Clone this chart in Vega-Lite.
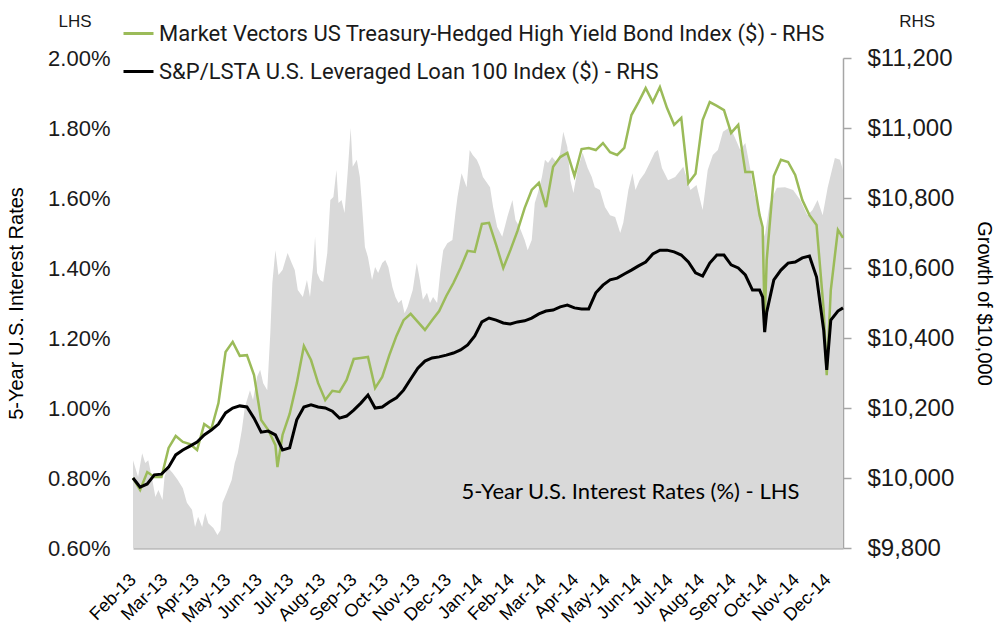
{
  "$schema": "https://vega.github.io/schema/vega-lite/v6.json",
  "width": 710,
  "height": 490,
  "autosize": {"type": "none"},
  "padding": {"left": 133, "top": 58, "right": 160, "bottom": 83},
  "background": "white",
  "config": {"view": {"stroke": null}, "font": "Liberation Sans", "axisX": {"labelOverlap": false, "labelBound": false, "labelFlush": false}},
  "datasets": {
    "rate": [
      {"d":"2013-02-01","v":0.851},{"d":"2013-02-06","v":0.803},{"d":"2013-02-10","v":0.871},{"d":"2013-02-13","v":0.843},{"d":"2013-02-16","v":0.851},{"d":"2013-02-20","v":0.794},{"d":"2013-02-23","v":0.746},{"d":"2013-02-26","v":0.766},{"d":"2013-03-02","v":0.737},{"d":"2013-03-04","v":0.803},{"d":"2013-03-07","v":0.831},{"d":"2013-03-12","v":0.814},{"d":"2013-03-17","v":0.794},{"d":"2013-03-22","v":0.771},{"d":"2013-03-26","v":0.729},{"d":"2013-03-31","v":0.709},{"d":"2013-04-03","v":0.660},{"d":"2013-04-06","v":0.689},{"d":"2013-04-10","v":0.660},{"d":"2013-04-13","v":0.700},{"d":"2013-04-16","v":0.671},{"d":"2013-04-21","v":0.657},{"d":"2013-04-25","v":0.637},{"d":"2013-04-28","v":0.651},{"d":"2013-04-30","v":0.729},{"d":"2013-05-04","v":0.757},{"d":"2013-05-09","v":0.794},{"d":"2013-05-12","v":0.843},{"d":"2013-05-15","v":0.871},{"d":"2013-05-19","v":0.937},{"d":"2013-05-22","v":1.003},{"d":"2013-05-27","v":1.051},{"d":"2013-05-30","v":1.023},{"d":"2013-06-03","v":1.089},{"d":"2013-06-06","v":1.109},{"d":"2013-06-09","v":1.071},{"d":"2013-06-13","v":1.051},{"d":"2013-06-16","v":1.214},{"d":"2013-06-18","v":1.357},{"d":"2013-06-21","v":1.451},{"d":"2013-06-24","v":1.380},{"d":"2013-06-28","v":1.394},{"d":"2013-07-03","v":1.443},{"d":"2013-07-07","v":1.414},{"d":"2013-07-10","v":1.394},{"d":"2013-07-13","v":1.337},{"d":"2013-07-18","v":1.317},{"d":"2013-07-22","v":1.366},{"d":"2013-07-25","v":1.317},{"d":"2013-07-28","v":1.403},{"d":"2013-07-30","v":1.489},{"d":"2013-08-01","v":1.386},{"d":"2013-08-04","v":1.366},{"d":"2013-08-07","v":1.360},{"d":"2013-08-11","v":1.443},{"d":"2013-08-14","v":1.594},{"d":"2013-08-17","v":1.603},{"d":"2013-08-20","v":1.680},{"d":"2013-08-22","v":1.586},{"d":"2013-08-25","v":1.594},{"d":"2013-08-28","v":1.557},{"d":"2013-08-31","v":1.671},{"d":"2013-09-03","v":1.800},{"d":"2013-09-05","v":1.689},{"d":"2013-09-09","v":1.709},{"d":"2013-09-12","v":1.660},{"d":"2013-09-14","v":1.586},{"d":"2013-09-17","v":1.460},{"d":"2013-09-20","v":1.431},{"d":"2013-09-24","v":1.366},{"d":"2013-09-27","v":1.403},{"d":"2013-09-30","v":1.386},{"d":"2013-10-04","v":1.414},{"d":"2013-10-07","v":1.423},{"d":"2013-10-10","v":1.403},{"d":"2013-10-14","v":1.346},{"d":"2013-10-17","v":1.317},{"d":"2013-10-20","v":1.300},{"d":"2013-10-23","v":1.309},{"d":"2013-10-26","v":1.271},{"d":"2013-10-29","v":1.289},{"d":"2013-11-03","v":1.337},{"d":"2013-11-07","v":1.414},{"d":"2013-11-10","v":1.366},{"d":"2013-11-13","v":1.309},{"d":"2013-11-17","v":1.329},{"d":"2013-11-20","v":1.300},{"d":"2013-11-23","v":1.317},{"d":"2013-11-27","v":1.300},{"d":"2013-11-30","v":1.386},{"d":"2013-12-03","v":1.451},{"d":"2013-12-07","v":1.471},{"d":"2013-12-12","v":1.480},{"d":"2013-12-15","v":1.557},{"d":"2013-12-17","v":1.603},{"d":"2013-12-21","v":1.671},{"d":"2013-12-26","v":1.631},{"d":"2013-12-29","v":1.737},{"d":"2014-01-01","v":1.723},{"d":"2014-01-05","v":1.709},{"d":"2014-01-08","v":1.689},{"d":"2014-01-11","v":1.660},{"d":"2014-01-18","v":1.631},{"d":"2014-01-21","v":1.574},{"d":"2014-01-25","v":1.517},{"d":"2014-01-30","v":1.489},{"d":"2014-02-04","v":1.546},{"d":"2014-02-09","v":1.594},{"d":"2014-02-12","v":1.537},{"d":"2014-02-16","v":1.517},{"d":"2014-02-21","v":1.480},{"d":"2014-02-24","v":1.451},{"d":"2014-02-28","v":1.480},{"d":"2014-03-03","v":1.586},{"d":"2014-03-06","v":1.614},{"d":"2014-03-10","v":1.660},{"d":"2014-03-13","v":1.709},{"d":"2014-03-16","v":1.700},{"d":"2014-03-20","v":1.717},{"d":"2014-03-25","v":1.700},{"d":"2014-03-28","v":1.729},{"d":"2014-03-31","v":1.789},{"d":"2014-04-04","v":1.746},{"d":"2014-04-07","v":1.651},{"d":"2014-04-10","v":1.614},{"d":"2014-04-14","v":1.680},{"d":"2014-04-16","v":1.700},{"d":"2014-04-19","v":1.729},{"d":"2014-04-24","v":1.686},{"d":"2014-04-28","v":1.660},{"d":"2014-05-01","v":1.631},{"d":"2014-05-06","v":1.623},{"d":"2014-05-11","v":1.574},{"d":"2014-05-16","v":1.551},{"d":"2014-05-21","v":1.546},{"d":"2014-05-26","v":1.500},{"d":"2014-05-29","v":1.529},{"d":"2014-06-03","v":1.623},{"d":"2014-06-07","v":1.671},{"d":"2014-06-10","v":1.623},{"d":"2014-06-14","v":1.651},{"d":"2014-06-19","v":1.671},{"d":"2014-06-24","v":1.700},{"d":"2014-06-29","v":1.731},{"d":"2014-07-02","v":1.737},{"d":"2014-07-06","v":1.686},{"d":"2014-07-12","v":1.651},{"d":"2014-07-19","v":1.660},{"d":"2014-07-27","v":1.689},{"d":"2014-08-03","v":1.623},{"d":"2014-08-09","v":1.637},{"d":"2014-08-15","v":1.566},{"d":"2014-08-20","v":1.680},{"d":"2014-08-25","v":1.723},{"d":"2014-08-30","v":1.737},{"d":"2014-09-04","v":1.789},{"d":"2014-09-11","v":1.803},{"d":"2014-09-16","v":1.771},{"d":"2014-09-21","v":1.737},{"d":"2014-09-26","v":1.757},{"d":"2014-10-01","v":1.680},{"d":"2014-10-05","v":1.609},{"d":"2014-10-10","v":1.566},{"d":"2014-10-15","v":1.489},{"d":"2014-10-20","v":1.586},{"d":"2014-10-27","v":1.629},{"d":"2014-11-04","v":1.631},{"d":"2014-11-12","v":1.623},{"d":"2014-11-19","v":1.594},{"d":"2014-11-26","v":1.551},{"d":"2014-12-01","v":1.566},{"d":"2014-12-06","v":1.594},{"d":"2014-12-11","v":1.551},{"d":"2014-12-16","v":1.631},{"d":"2014-12-23","v":1.714},{"d":"2014-12-28","v":1.709},{"d":"2014-12-31","v":1.680}
    ],
    "idx": [
      {"d":"2013-02-01","s":"HY","v":10000},{"d":"2013-02-08","s":"HY","v":9966},{"d":"2013-02-15","s":"HY","v":10017},{"d":"2013-02-22","s":"HY","v":10003},{"d":"2013-03-01","s":"HY","v":10003},{"d":"2013-03-08","s":"HY","v":10086},{"d":"2013-03-15","s":"HY","v":10120},{"d":"2013-03-22","s":"HY","v":10103},{"d":"2013-03-29","s":"HY","v":10097},{"d":"2013-04-05","s":"HY","v":10080},{"d":"2013-04-12","s":"HY","v":10154},{"d":"2013-04-19","s":"HY","v":10140},{"d":"2013-04-26","s":"HY","v":10214},{"d":"2013-05-03","s":"HY","v":10360},{"d":"2013-05-10","s":"HY","v":10389},{"d":"2013-05-17","s":"HY","v":10349},{"d":"2013-05-24","s":"HY","v":10351},{"d":"2013-05-31","s":"HY","v":10294},{"d":"2013-06-07","s":"HY","v":10166},{"d":"2013-06-14","s":"HY","v":10137},{"d":"2013-06-21","s":"HY","v":10094},{"d":"2013-06-23","s":"HY","v":10031},{"d":"2013-06-28","s":"HY","v":10123},{"d":"2013-07-05","s":"HY","v":10183},{"d":"2013-07-12","s":"HY","v":10271},{"d":"2013-07-19","s":"HY","v":10377},{"d":"2013-07-26","s":"HY","v":10337},{"d":"2013-08-02","s":"HY","v":10271},{"d":"2013-08-09","s":"HY","v":10223},{"d":"2013-08-16","s":"HY","v":10249},{"d":"2013-08-23","s":"HY","v":10246},{"d":"2013-08-30","s":"HY","v":10280},{"d":"2013-09-06","s":"HY","v":10340},{"d":"2013-09-13","s":"HY","v":10343},{"d":"2013-09-20","s":"HY","v":10346},{"d":"2013-09-27","s":"HY","v":10257},{"d":"2013-10-04","s":"HY","v":10289},{"d":"2013-10-11","s":"HY","v":10351},{"d":"2013-10-18","s":"HY","v":10406},{"d":"2013-10-25","s":"HY","v":10451},{"d":"2013-11-01","s":"HY","v":10469},{"d":"2013-11-08","s":"HY","v":10446},{"d":"2013-11-15","s":"HY","v":10423},{"d":"2013-11-22","s":"HY","v":10451},{"d":"2013-11-29","s":"HY","v":10477},{"d":"2013-12-06","s":"HY","v":10520},{"d":"2013-12-13","s":"HY","v":10557},{"d":"2013-12-20","s":"HY","v":10600},{"d":"2013-12-27","s":"HY","v":10649},{"d":"2014-01-03","s":"HY","v":10646},{"d":"2014-01-10","s":"HY","v":10726},{"d":"2014-01-17","s":"HY","v":10729},{"d":"2014-01-24","s":"HY","v":10666},{"d":"2014-01-31","s":"HY","v":10600},{"d":"2014-02-07","s":"HY","v":10651},{"d":"2014-02-14","s":"HY","v":10706},{"d":"2014-02-21","s":"HY","v":10771},{"d":"2014-02-28","s":"HY","v":10823},{"d":"2014-03-07","s":"HY","v":10843},{"d":"2014-03-14","s":"HY","v":10774},{"d":"2014-03-21","s":"HY","v":10889},{"d":"2014-03-28","s":"HY","v":10917},{"d":"2014-04-04","s":"HY","v":10929},{"d":"2014-04-11","s":"HY","v":10863},{"d":"2014-04-18","s":"HY","v":10940},{"d":"2014-04-25","s":"HY","v":10943},{"d":"2014-05-02","s":"HY","v":10937},{"d":"2014-05-09","s":"HY","v":10957},{"d":"2014-05-16","s":"HY","v":10931},{"d":"2014-05-23","s":"HY","v":10923},{"d":"2014-05-30","s":"HY","v":10943},{"d":"2014-06-06","s":"HY","v":11037},{"d":"2014-06-13","s":"HY","v":11074},{"d":"2014-06-20","s":"HY","v":11114},{"d":"2014-06-27","s":"HY","v":11074},{"d":"2014-07-04","s":"HY","v":11117},{"d":"2014-07-11","s":"HY","v":11057},{"d":"2014-07-18","s":"HY","v":11009},{"d":"2014-07-25","s":"HY","v":11029},{"d":"2014-08-01","s":"HY","v":10843},{"d":"2014-08-08","s":"HY","v":10869},{"d":"2014-08-15","s":"HY","v":11023},{"d":"2014-08-22","s":"HY","v":11074},{"d":"2014-08-29","s":"HY","v":11063},{"d":"2014-09-05","s":"HY","v":11051},{"d":"2014-09-12","s":"HY","v":10986},{"d":"2014-09-19","s":"HY","v":11009},{"d":"2014-09-26","s":"HY","v":10874},{"d":"2014-10-03","s":"HY","v":10874},{"d":"2014-10-10","s":"HY","v":10751},{"d":"2014-10-13","s":"HY","v":10717},{"d":"2014-10-15","s":"HY","v":10446},{"d":"2014-10-17","s":"HY","v":10623},{"d":"2014-10-24","s":"HY","v":10863},{"d":"2014-10-31","s":"HY","v":10909},{"d":"2014-11-07","s":"HY","v":10903},{"d":"2014-11-14","s":"HY","v":10866},{"d":"2014-11-21","s":"HY","v":10794},{"d":"2014-11-28","s":"HY","v":10751},{"d":"2014-12-05","s":"HY","v":10723},{"d":"2014-12-12","s":"HY","v":10480},{"d":"2014-12-15","s":"HY","v":10294},{"d":"2014-12-19","s":"HY","v":10537},{"d":"2014-12-26","s":"HY","v":10709},{"d":"2014-12-31","s":"HY","v":10686},
      {"d":"2013-02-01","s":"Loan","v":10000},{"d":"2013-02-08","s":"Loan","v":9974},{"d":"2013-02-15","s":"Loan","v":9983},{"d":"2013-02-22","s":"Loan","v":10009},{"d":"2013-03-01","s":"Loan","v":10011},{"d":"2013-03-08","s":"Loan","v":10031},{"d":"2013-03-15","s":"Loan","v":10066},{"d":"2013-03-22","s":"Loan","v":10080},{"d":"2013-03-29","s":"Loan","v":10091},{"d":"2013-04-05","s":"Loan","v":10103},{"d":"2013-04-12","s":"Loan","v":10123},{"d":"2013-04-19","s":"Loan","v":10137},{"d":"2013-04-26","s":"Loan","v":10154},{"d":"2013-05-03","s":"Loan","v":10186},{"d":"2013-05-10","s":"Loan","v":10200},{"d":"2013-05-17","s":"Loan","v":10206},{"d":"2013-05-24","s":"Loan","v":10203},{"d":"2013-05-31","s":"Loan","v":10171},{"d":"2013-06-07","s":"Loan","v":10131},{"d":"2013-06-14","s":"Loan","v":10134},{"d":"2013-06-21","s":"Loan","v":10123},{"d":"2013-06-28","s":"Loan","v":10080},{"d":"2013-07-05","s":"Loan","v":10086},{"d":"2013-07-12","s":"Loan","v":10166},{"d":"2013-07-19","s":"Loan","v":10203},{"d":"2013-07-26","s":"Loan","v":10209},{"d":"2013-08-02","s":"Loan","v":10203},{"d":"2013-08-09","s":"Loan","v":10200},{"d":"2013-08-16","s":"Loan","v":10191},{"d":"2013-08-23","s":"Loan","v":10171},{"d":"2013-08-30","s":"Loan","v":10177},{"d":"2013-09-06","s":"Loan","v":10194},{"d":"2013-09-13","s":"Loan","v":10214},{"d":"2013-09-20","s":"Loan","v":10237},{"d":"2013-09-27","s":"Loan","v":10200},{"d":"2013-10-04","s":"Loan","v":10203},{"d":"2013-10-11","s":"Loan","v":10217},{"d":"2013-10-18","s":"Loan","v":10229},{"d":"2013-10-25","s":"Loan","v":10251},{"d":"2013-11-01","s":"Loan","v":10283},{"d":"2013-11-08","s":"Loan","v":10314},{"d":"2013-11-15","s":"Loan","v":10334},{"d":"2013-11-22","s":"Loan","v":10343},{"d":"2013-11-29","s":"Loan","v":10346},{"d":"2013-12-06","s":"Loan","v":10351},{"d":"2013-12-13","s":"Loan","v":10357},{"d":"2013-12-20","s":"Loan","v":10366},{"d":"2013-12-27","s":"Loan","v":10380},{"d":"2014-01-03","s":"Loan","v":10406},{"d":"2014-01-10","s":"Loan","v":10446},{"d":"2014-01-17","s":"Loan","v":10457},{"d":"2014-01-24","s":"Loan","v":10451},{"d":"2014-01-31","s":"Loan","v":10443},{"d":"2014-02-07","s":"Loan","v":10440},{"d":"2014-02-14","s":"Loan","v":10446},{"d":"2014-02-21","s":"Loan","v":10449},{"d":"2014-02-28","s":"Loan","v":10457},{"d":"2014-03-07","s":"Loan","v":10469},{"d":"2014-03-14","s":"Loan","v":10477},{"d":"2014-03-21","s":"Loan","v":10480},{"d":"2014-03-28","s":"Loan","v":10489},{"d":"2014-04-04","s":"Loan","v":10494},{"d":"2014-04-11","s":"Loan","v":10486},{"d":"2014-04-18","s":"Loan","v":10483},{"d":"2014-04-25","s":"Loan","v":10483},{"d":"2014-05-02","s":"Loan","v":10529},{"d":"2014-05-09","s":"Loan","v":10551},{"d":"2014-05-16","s":"Loan","v":10566},{"d":"2014-05-23","s":"Loan","v":10571},{"d":"2014-05-30","s":"Loan","v":10583},{"d":"2014-06-06","s":"Loan","v":10594},{"d":"2014-06-13","s":"Loan","v":10606},{"d":"2014-06-20","s":"Loan","v":10617},{"d":"2014-06-27","s":"Loan","v":10640},{"d":"2014-07-04","s":"Loan","v":10651},{"d":"2014-07-11","s":"Loan","v":10651},{"d":"2014-07-18","s":"Loan","v":10646},{"d":"2014-07-25","s":"Loan","v":10637},{"d":"2014-08-01","s":"Loan","v":10617},{"d":"2014-08-08","s":"Loan","v":10586},{"d":"2014-08-15","s":"Loan","v":10577},{"d":"2014-08-22","s":"Loan","v":10614},{"d":"2014-08-29","s":"Loan","v":10637},{"d":"2014-09-05","s":"Loan","v":10637},{"d":"2014-09-12","s":"Loan","v":10609},{"d":"2014-09-19","s":"Loan","v":10600},{"d":"2014-09-26","s":"Loan","v":10580},{"d":"2014-10-03","s":"Loan","v":10537},{"d":"2014-10-10","s":"Loan","v":10537},{"d":"2014-10-13","s":"Loan","v":10517},{"d":"2014-10-15","s":"Loan","v":10417},{"d":"2014-10-17","s":"Loan","v":10474},{"d":"2014-10-24","s":"Loan","v":10566},{"d":"2014-10-31","s":"Loan","v":10594},{"d":"2014-11-07","s":"Loan","v":10614},{"d":"2014-11-14","s":"Loan","v":10617},{"d":"2014-11-21","s":"Loan","v":10629},{"d":"2014-11-28","s":"Loan","v":10634},{"d":"2014-12-05","s":"Loan","v":10574},{"d":"2014-12-12","s":"Loan","v":10423},{"d":"2014-12-15","s":"Loan","v":10309},{"d":"2014-12-19","s":"Loan","v":10451},{"d":"2014-12-26","s":"Loan","v":10477},{"d":"2014-12-31","s":"Loan","v":10486}
    ]
  },
  "encoding": {
    "x": {
      "field": "d", "type": "temporal",
      "scale": {"type": "utc", "domain": [{"year": 2013, "month": 2, "date": 1, "utc": true}, {"year": 2014, "month": 12, "date": 31, "utc": true}]},
      "axis": {
        "orient": "bottom", "title": null, "grid": false, "ticks": false, "tickSize": 0,
        "values": [
          {"year":2013,"month":2,"date":1,"utc":true},{"year":2013,"month":3,"date":4,"utc":true},{"year":2013,"month":4,"date":4,"utc":true},{"year":2013,"month":5,"date":5,"utc":true},{"year":2013,"month":6,"date":5,"utc":true},{"year":2013,"month":7,"date":6,"utc":true},{"year":2013,"month":8,"date":6,"utc":true},{"year":2013,"month":9,"date":6,"utc":true},{"year":2013,"month":10,"date":7,"utc":true},{"year":2013,"month":11,"date":7,"utc":true},{"year":2013,"month":12,"date":8,"utc":true},{"year":2014,"month":1,"date":8,"utc":true},{"year":2014,"month":2,"date":8,"utc":true},{"year":2014,"month":3,"date":11,"utc":true},{"year":2014,"month":4,"date":12,"utc":true},{"year":2014,"month":5,"date":13,"utc":true},{"year":2014,"month":6,"date":13,"utc":true},{"year":2014,"month":7,"date":14,"utc":true},{"year":2014,"month":8,"date":14,"utc":true},{"year":2014,"month":9,"date":14,"utc":true},{"year":2014,"month":10,"date":15,"utc":true},{"year":2014,"month":11,"date":15,"utc":true},{"year":2014,"month":12,"date":16,"utc":true}
        ],
        "format": "%b-%y", "labelAngle": -45, "labelAlign": "right", "labelBaseline": "middle",
        "labelPadding": 29, "labelFontSize": 18, "labelFont": "Liberation Sans", "labelColor": "#000000",
        "labelOverlap": false, "labelBound": false, "labelFlush": false, "labelSeparation": 0,
        "domainColor": "#bfbfbf", "domainWidth": 2.5
      }
    }
  },
  "layer": [
    {
      "layer": [
        {
          "data": {"name": "rate"},
          "mark": {"type": "area", "color": "#d9d9d9"},
          "encoding": {
            "y": {
              "field": "v", "type": "quantitative",
              "scale": {"domain": [0.6, 2.0], "nice": false, "zero": false},
              "axis": {
                "orient": "left", "values": [0.6, 0.8, 1.0, 1.2, 1.4, 1.6, 1.8, 2.0],
                "labelExpr": "format(datum.value, '.2f') + '%'",
                "domain": false, "ticks": false, "tickSize": 0, "grid": false,
                "labelPadding": 23, "labelFontSize": 22, "labelFont": "Liberation Sans", "labelColor": "#1a1a1a",
                "title": "5-Year U.S. Interest Rates", "titleFontSize": 20, "titleFontWeight": "normal",
                "titleFont": "Liberation Sans", "titleColor": "#000000", "titlePadding": 21
              }
            },
            "y2": {"datum": 0.6}
          }
        },
        {
          "data": {"values": [{"d": "2013-12-21", "v": 0.76, "t": "5-Year U.S. Interest Rates (%) - LHS"}]},
          "mark": {"type": "text", "align": "left", "baseline": "middle", "font": "Lato", "fontSize": 22, "color": "#000000"},
          "encoding": {
            "y": {"field": "v", "type": "quantitative"},
            "text": {"field": "t"}
          }
        },
        {
          "data": {"values": [{"d": "2012-12-06", "v": 2.103, "t": "LHS"}]},
          "mark": {"type": "text", "align": "center", "baseline": "middle", "font": "Liberation Sans", "fontSize": 17, "color": "#1a1a1a"},
          "encoding": {
            "y": {"field": "v", "type": "quantitative"},
            "text": {"field": "t"}
          }
        }
      ]
    },
    {
      "layer": [
        {
          "data": {"name": "idx"},
          "transform": [{"filter": "datum.s === 'HY'"}],
          "mark": {"type": "line", "strokeWidth": 2.5},
          "encoding": {
            "y": {
              "field": "v", "type": "quantitative",
              "scale": {"domain": [9800, 11200], "nice": false, "zero": false},
              "axis": {
                "orient": "right", "values": [9800, 10000, 10200, 10400, 10600, 10800, 11000, 11200],
                "format": "$,.0f", "grid": false,
                "domain": true, "domainColor": "#a6a6a6", "domainWidth": 1.5,
                "ticks": true, "tickColor": "#a6a6a6", "tickSize": 8, "tickWidth": 1.5,
                "labelPadding": 16, "labelFontSize": 24, "labelFont": "Liberation Sans", "labelColor": "#1a1a1a",
                "title": "Growth of $10,000", "titleFontSize": 20, "titleFontWeight": "normal",
                "titleFont": "Liberation Sans", "titleColor": "#000000", "titlePadding": 20
              }
            },
            "color": {
              "field": "s", "type": "nominal",
              "scale": {"domain": ["HY", "Loan"], "range": ["#9bbb59", "#000000"]},
              "legend": {
                "orient": "none", "legendX": -11, "legendY": -41, "title": null, "padding": 0,
                "direction": "vertical", "symbolType": "stroke", "symbolSize": 900, "symbolStrokeWidth": 3,
                "labelOffset": 4, "rowPadding": 10, "labelFontSize": 22, "labelFont": "Roboto",
                "labelColor": "#1a1a1a", "labelLimit": 900,
                "labelExpr": "datum.label === 'HY' ? 'Market Vectors US Treasury-Hedged High Yield Bond Index ($) - RHS' : 'S&P/LSTA U.S. Leveraged Loan 100 Index ($) - RHS'"
              }
            }
          }
        },
        {
          "data": {"name": "idx"},
          "transform": [{"filter": "datum.s === 'Loan'"}],
          "mark": {"type": "line", "strokeWidth": 3},
          "encoding": {
            "y": {"field": "v", "type": "quantitative"},
            "color": {"field": "s", "type": "nominal"}
          }
        },
        {
          "data": {"values": [{"d": "2015-03-14", "v": 11303, "t": "RHS"}]},
          "mark": {"type": "text", "align": "center", "baseline": "middle", "font": "Liberation Sans", "fontSize": 17, "color": "#1a1a1a"},
          "encoding": {
            "y": {"field": "v", "type": "quantitative"},
            "text": {"field": "t"}
          }
        }
      ]
    }
  ],
  "resolve": {"scale": {"y": "independent"}, "axis": {"y": "independent"}}
}
